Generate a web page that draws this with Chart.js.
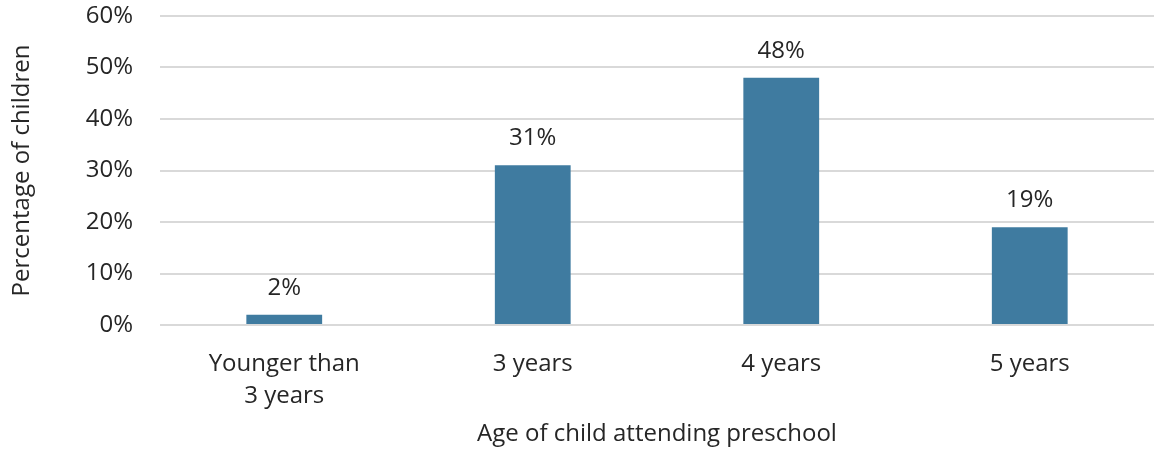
<!DOCTYPE html>
<html>
<head>
<meta charset="utf-8">
<script src="https://cdn.jsdelivr.net/npm/chart.js@4/dist/chart.umd.min.js"></script>
<style>
  html, body { margin: 0; padding: 0; background: #fff; overflow: hidden; }
  #wrap { width: 1154px; height: 449px; }
</style>
</head>
<body>
<div id="wrap"><canvas id="c" width="1154" height="449"></canvas></div>
<script>
// Preschool attendance by child's age
const categories = [['Younger than', '3 years'], '3 years', '4 years', '5 years'];
const shareOfChildren = [2, 31, 48, 19];
const yTicks = [0, 10, 20, 30, 40, 50, 60];

const FONT = '"Open Sans", Lato, sans-serif';
const TEXT = '#262626';
const SIZE = 24;

// Writes each bar's value above it
const valueLabels = {
  id: 'valueLabels',
  afterDatasetsDraw(chart) {
    const { ctx } = chart;
    const meta = chart.getDatasetMeta(0);
    ctx.save();
    ctx.font = SIZE + 'px ' + FONT;
    ctx.fillStyle = TEXT;
    ctx.textAlign = 'center';
    ctx.textBaseline = 'middle';
    meta.data.forEach((bar, i) => {
      ctx.fillText(shareOfChildren[i] + '%', bar.x, bar.y - 27);
    });
    ctx.restore();
  }
};

new Chart(document.getElementById('c'), {
  type: 'bar',
  data: {
    labels: categories,
    datasets: [{
      data: shareOfChildren,
      backgroundColor: '#3f7ba0',
      borderWidth: 0,
      categoryPercentage: 1,
      barPercentage: 0.305
    }]
  },
  options: {
    responsive: false,
    animation: false,
    layout: { padding: { top: 16, right: 0, left: 8, bottom: 0 } },
    plugins: { legend: { display: false }, tooltip: { enabled: false } },
    scales: {
      x: {
        grid: { display: false, drawTicks: false },
        border: { display: false },
        ticks: { color: TEXT, font: { family: FONT, size: SIZE, lineHeight: 1.3 }, padding: 24, maxRotation: 0 },
        title: { display: true, text: 'Age of child attending preschool', color: TEXT,
                 font: { family: FONT, size: SIZE }, padding: { top: 0, bottom: 0 } },
        afterFit(scale) { scale.height = 124; }
      },
      y: {
        min: 0, max: 60,
        afterBuildTicks(scale) { scale.ticks = yTicks.map(v => ({ value: v })); },
        grid: { color: '#d9d9d9', lineWidth: 2, drawTicks: true, tickLength: 27, tickColor: 'rgba(0,0,0,0)' },
        border: { display: false },
        ticks: { color: TEXT, font: { family: FONT, size: SIZE }, padding: 0, callback: v => v + '%' },
        title: { display: true, text: 'Percentage of children', color: TEXT,
                 font: { family: FONT, size: SIZE }, padding: { top: 0, bottom: 0 } },
        afterFit(scale) { scale.width = 152; }
      }
    }
  },
  plugins: [valueLabels]
});
</script>
</body>
</html>
